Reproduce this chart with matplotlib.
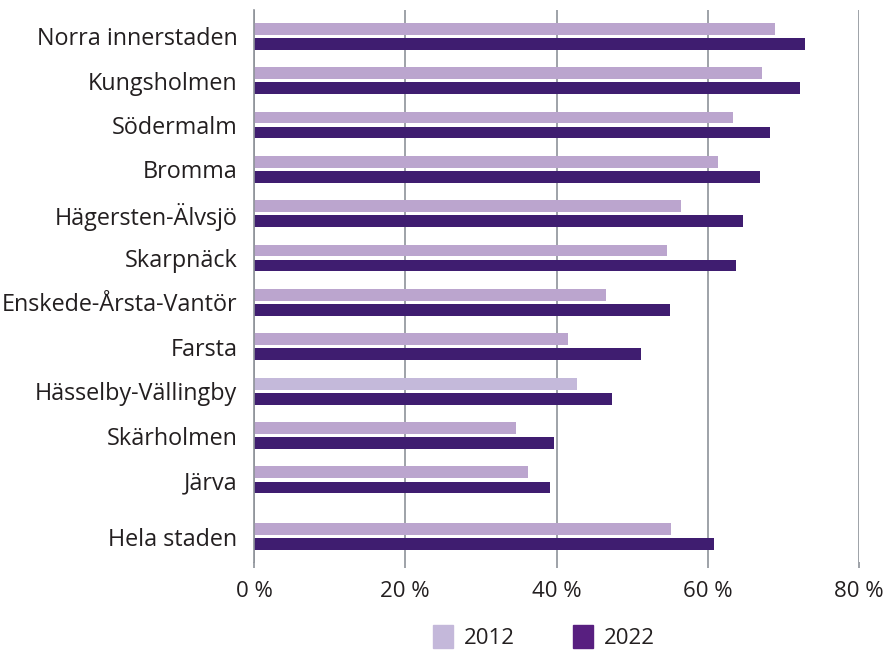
import numpy as np
import matplotlib.pyplot as plt
from matplotlib.patches import Patch

plt.rcParams['font.family'] = ['Open Sans', 'DejaVu Sans']

districts = ['Norra innerstaden', 'Kungsholmen', 'Södermalm', 'Bromma',
             'Hägersten-Älvsjö', 'Skarpnäck', 'Enskede-Årsta-Vantör', 'Farsta',
             'Hässelby-Vällingby', 'Skärholmen', 'Järva', 'Hela staden']
share_2012 = [68.9, 67.2, 63.4, 61.3, 56.4, 54.6, 46.6, 41.5, 42.7, 34.6, 36.2, 55.2]
share_2022 = [72.8, 72.2, 68.2, 66.9, 64.7, 63.8, 55.0, 51.2, 47.3, 39.7, 39.2, 60.8]
xticks = [0, 20, 40, 60, 80]
xtick_labels = ['0 %', '20 %', '40 %', '60 %', '80 %']

c2012 = '#BBA5CE'
c2022 = '#3F1D70'
grid_c = '#8E9299'
text_c = '#231F20'

# y positions, with an extra gap before "Hela staden"
ypos = np.arange(len(districts), dtype=float)
ypos[-1] += 0.28

fig = plt.figure(figsize=(8.84, 6.53), dpi=100)
ax = fig.add_axes([254 / 884, 1 - 562 / 653, 605 / 884, 552 / 653])

h = 0.265
off = 0.17
colors_2012 = [c2012] * len(districts)
colors_2012[districts.index('Hässelby-Vällingby')] = '#C4B9DA'
ax.barh(ypos - off, share_2012, height=h, color=colors_2012, zorder=3)
ax.barh(ypos + off, share_2022, height=h, color=c2022, zorder=3)

ax.set_xlim(0, 80)
ax.set_ylim(ypos[-1] + 0.57, -0.59)
ax.set_xticks(xticks)
ax.set_xticklabels(xtick_labels)
ax.set_yticks(ypos)
ax.set_yticklabels(districts)
ax.xaxis.grid(True, color=grid_c, linewidth=1.2, zorder=0)
for s in ['top', 'right', 'bottom']:
    ax.spines[s].set_visible(False)
ax.spines['left'].set_color(grid_c)
ax.spines['left'].set_linewidth(1.2)
ax.spines['left'].set_zorder(4)
ax.tick_params(axis='x', length=4, color=grid_c, width=1.2, pad=10,
               labelsize=16, labelcolor=text_c)
ax.tick_params(axis='y', length=0, pad=12, labelsize=16.8, labelcolor=text_c)

handles = [Patch(color='#C4B8DA', label='2012'), Patch(color='#581F80', label='2022')]
fig.legend(handles=handles, loc='lower center', bbox_to_anchor=(0.615, -0.025),
           ncol=2, frameon=False, fontsize=16, handlelength=0.9, handleheight=1.2,
           columnspacing=2.6, handletextpad=0.5, labelcolor=text_c)

fig.savefig('out.png', dpi=100)
